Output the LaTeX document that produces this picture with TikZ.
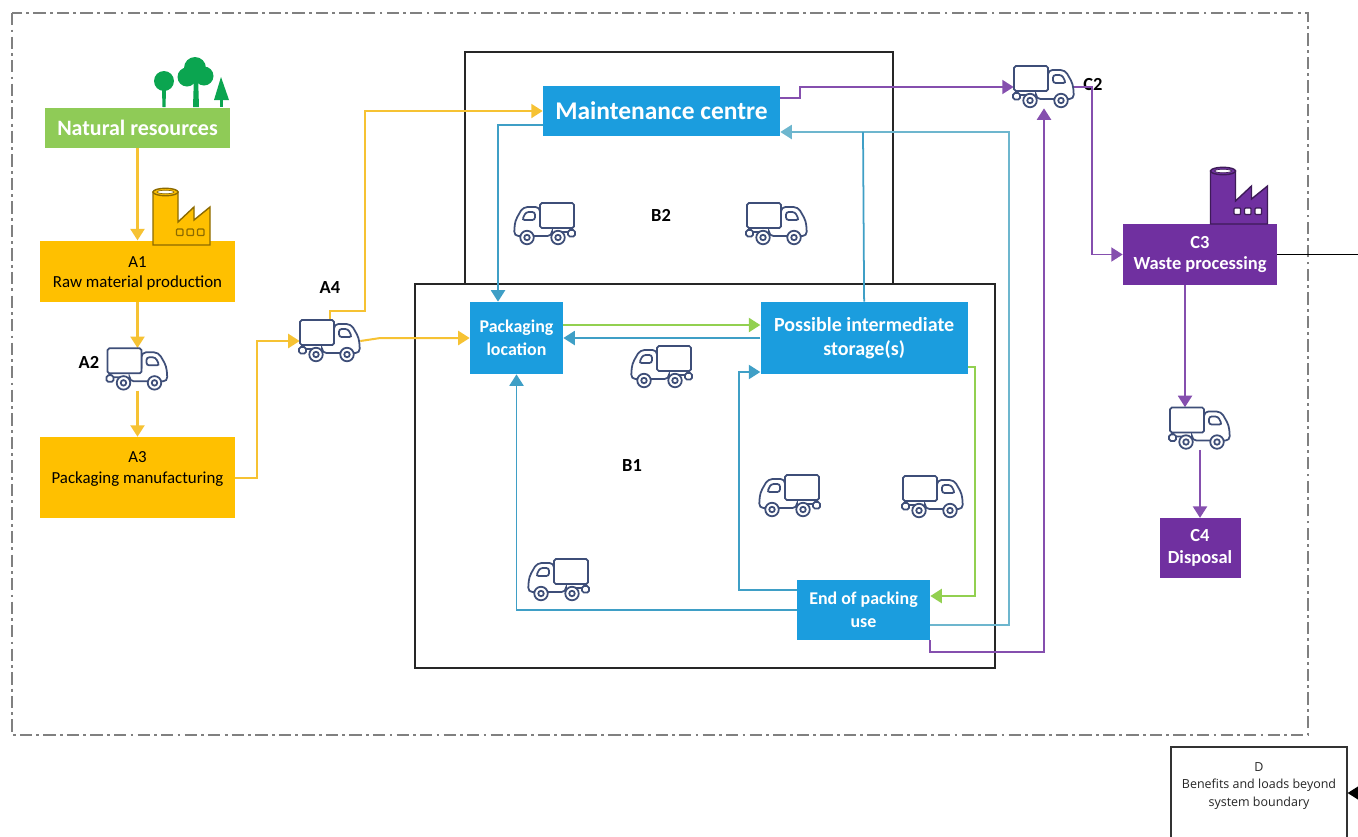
\documentclass[tikz,border=0pt]{standalone}
\usepackage{fontspec}
\usepackage{tikz}
\usetikzlibrary{positioning}
\usetikzlibrary{arrows.meta}
\setmainfont{Carlito}
\newfontfamily\dfont{Open Sans}
\definecolor{green_box}{HTML}{8FCB57}
\definecolor{tree_green}{HTML}{0BA550}
\definecolor{yellow_box}{HTML}{FFC000}
\definecolor{yellow_line}{HTML}{F6C233}
\definecolor{blue_box}{HTML}{1B9DDE}
\definecolor{blue_line}{HTML}{3F9FC6}
\definecolor{blue_light}{HTML}{6DB6CE}
\definecolor{green_line}{HTML}{92D050}
\definecolor{purple_box}{HTML}{7030A0}
\definecolor{truck_line}{HTML}{3E4E78}
\tikzset{
  pics/truck/.style={code={
    \draw[truck_line, line width=1pt, fill=white, rounded corners=2.5pt] (4,-17) -- (21,-17) -- (29,-3) -- (30,12) -- (-8,12) -- (-8,8) -- (-28,8) -- (-28,3) -- (4,3) -- cycle;
    \draw[truck_line, line width=1pt, fill=white, rounded corners=1pt] (-31,6) rectangle (-24,12.5);
    \draw[truck_line, line width=1pt, fill=white, rounded corners=1pt] (-30,-21) rectangle (4,4);
    \draw[truck_line, line width=1pt, fill=white, rounded corners=1.5pt] (9,-12) -- (18,-12) -- (22,-4) -- (9,-4) -- cycle;
    \foreach \wheel in {-14,17} {
      \draw[truck_line, line width=1pt, fill=white] (\wheel,13.5) circle (1.35mm);
      \draw[truck_line, line width=1pt, fill=white] (\wheel,13.5) circle (0.55mm);
    }
  }},
  pics/factory/.style 2 args={code={
    \draw[#1!55!black, line width=0.8pt, fill=#1] (0,0) -- (0,-53) -- (25,-53) -- (25,-23) -- (41,-38) -- (41,-25) -- (57,-38) -- (57,0) -- cycle;
    \draw[#1!55!black, line width=0.8pt, fill=#1] (12.5,-53) ellipse (2.5mm and 0.75mm);
    \draw[#1!55!black, line width=0.4pt, fill=white] (12.5,-53) ellipse (1.7mm and 0.35mm);
    \foreach \win in {23.5,34,44.5}
      \draw[#1!55!black, line width=0.7pt, fill=#2, rounded corners=0.5pt] (\win,-16) rectangle ++(6.5,6.5);
  }},
}
\begin{document}
\begin{tikzpicture}[
    x=0.02cm, y=-0.02cm,
    green_node/.style={rectangle, fill=green_box, text=white, inner sep=0pt, font=\bfseries\fontsize{12.5}{14}\selectfont},
    yellow_node/.style={rectangle, fill=yellow_box, text=black, inner sep=0pt, align=center, minimum width=39mm, font=\fontsize{9.6}{11.4}\selectfont},
    blue_node/.style={rectangle, fill=blue_box, text=white, inner sep=0pt, align=center, font=\bfseries\fontsize{10.2}{12.8}\selectfont},
    purple_node/.style={rectangle, fill=purple_box, text=white, inner sep=0pt, align=center, font=\bfseries\fontsize{10.5}{12.4}\selectfont},
    truck_node/.style={rectangle, inner sep=0pt, minimum width=12mm, minimum height=8.4mm},
    label_node/.style={inner sep=0pt, font=\bfseries\fontsize{10.5}{12}\selectfont},
    system_line/.style={draw=black!50, line width=1pt, dash pattern=on 7pt off 2.4pt on 1.6pt off 2.4pt},
    frame_line/.style={draw=black!85, line width=0.8pt},
    yellow_arrow/.style={draw=yellow_line, line width=1.15pt, -{Triangle[length=6.5pt, width=8pt]}},
    blue_arrow/.style={draw=blue_line, line width=1pt, -{Triangle[length=6.5pt, width=8pt]}},
    green_arrow/.style={draw=green_line, line width=1.15pt, -{Triangle[length=6.5pt, width=8pt]}},
    purple_arrow/.style={draw=purple_box!85!white, line width=1.05pt, -{Triangle[length=6.5pt, width=8pt]}},
]
\useasboundingbox (0,0) rectangle (1358,836);
% Boundary and frames
\draw[system_line] (12,13) rectangle (1308,735);
\draw[frame_line] (465,52) rectangle (893,284);
\draw[frame_line] (415,284) rectangle (995,668);

% Nodes
\node[green_node, minimum width=37mm, minimum height=8mm] (natural) at (137.5,128) {Natural resources};
\node[yellow_node, minimum height=12.2mm] (a1) [below=18.4mm of natural] {\rule{0pt}{8.5pt}A1\\Raw material production};
\node[truck_node] (truck_a2) [below=9.2mm of a1] {};
\node[yellow_node, minimum height=16.2mm] (a3) [below=9.2mm of truck_a2] {A3\\Packaging manufacturing\\~};
\node[truck_node] (truck_a4) at (330,341) {};

\node[blue_node, minimum width=18.6mm, minimum height=14.4mm] (pack) at (516.5,338) {Packaging\\location};
\node[blue_node, minimum width=41.4mm, minimum height=14.4mm, font=\bfseries\fontsize{11.4}{14}\selectfont] (storage) [right=39.4mm of pack] {Possible intermediate\\storage(s)};
\node[blue_node, minimum width=47.4mm, minimum height=10mm, font=\bfseries\fontsize{14.5}{16}\selectfont] (maint) at (661.5,111) {Maintenance centre};
\node[blue_node, minimum width=26.6mm, minimum height=12mm] (end_use) at (863.5,610) {End of packing\\use};

\node[truck_node] (truck_b2_l) at (544,224) {};
\node[truck_node] (truck_b2_r) at (777,224) {};
\node[truck_node] (truck_mid) at (661,367) {};
\node[truck_node] (truck_b1_l) at (789,496) {};
\node[truck_node] (truck_b1_r) at (933,497) {};
\node[truck_node] (truck_low) at (558,580) {};

\node[truck_node] (truck_c2) at (1044,87) {};
\node[purple_node, minimum width=30.8mm, minimum height=12.2mm] (c3) at (1200,254.5) {C3\\Waste processing};
\node[truck_node] (truck_c3) at (1200,428.5) {};
\node[purple_node, minimum width=16.2mm, minimum height=12mm] (c4) [below=13.6mm of truck_c3] {C4\\Disposal};
\node[rectangle, draw=black!80, line width=0.7pt, fill=white, minimum width=35.2mm, minimum height=18.4mm, inner sep=0pt, align=center, font=\dfont\fontsize{7.1}{9.9}\selectfont, text=black!85] (d) at (1259,793) {D\\Benefits and loads beyond\\system boundary\\~};

% Labels
\node[label_node] (label_a2) at (89,362) {A2};
\node[label_node] (label_a4) at (330,288) {A4};
\node[label_node] (label_b2) at (661,215) {B2};
\node[label_node] (label_b1) at (632,465) {B1};
\node[label_node] (label_c2) at (1093,85) {C2};

\coordinate (blue_join) at (863,132);
\coordinate (black_out) at (1358,254.5);
\coordinate (black_in) at (1358,793);

%Lines
\draw[yellow_arrow] (natural.south) -- (a1.north);
\draw[yellow_arrow] (a1.south) -- (truck_a2.north);
\draw[yellow_arrow] (truck_a2.south) -- (a3.north);
\draw[yellow_arrow] (a3.east) -- ++(22,0) |- (truck_a4.west);
\draw[yellow_arrow] (truck_a4.north) -- ++(0,-9) -- ++(35,0) |- (maint.west);
\draw[yellow_arrow] (truck_a4.east) -- ++(20,-3) -- (pack.west);

\draw[green_arrow] ([yshift=2.6mm]pack.east) -- ([yshift=2.6mm]storage.west);
\draw[blue_arrow] (storage.west) -- (pack.east);
\draw[green_arrow] ([yshift=-5.8mm]storage.east) -- ++(7,0) |- ([yshift=2.8mm]end_use.east);
\draw[blue_arrow] ([yshift=4mm]end_use.west) -- ++(-58,0) |- ([yshift=-6.8mm]storage.west);
\draw[blue_arrow] (end_use.west) -| (pack.south);
\draw[blue_arrow, draw=blue_light] ([yshift=-3mm]end_use.east) -- ++(79,0) |- ([yshift=-4.2mm]maint.east);
\draw[draw=blue_line, line width=1pt] (storage.north) -- (blue_join);
\draw[blue_arrow] ([yshift=-2.8mm]maint.west) -| ([xshift=-3.7mm]pack.north);

\draw[purple_arrow] ([yshift=2.6mm]maint.east) -- ++(20,0) |- (truck_c2.west);
\draw[purple_arrow] (end_use.south east) -- ++(0,12) -| (truck_c2.south);
\draw[purple_arrow] (truck_c2.east) -- ++(18,0) |- (c3.west);
\draw[purple_arrow] ([xshift=-3mm]c3.south) -- ([xshift=-3mm]truck_c3.north);
\draw[purple_arrow] (truck_c3.south) -- (c4.north);

\draw[black, line width=0.8pt] (c3.east) -- (black_out);
\draw[black, line width=0.8pt, -{Triangle[length=6.5pt, width=8pt]}] (black_in) -- (d.east);

% Trucks
\foreach \truckname in {truck_a2, truck_a4, truck_b2_r, truck_b1_r, truck_c2, truck_c3}
  \pic at (\truckname) {truck};
\foreach \truckname in {truck_b2_l, truck_mid, truck_b1_l, truck_low}
  \pic[xscale=-1] at (\truckname) {truck};

% Factories and trees
\pic at (153,245) {factory={yellow_box}{yellow_box}};
\pic at (1210.5,224) {factory={purple_box}{white}};
\fill[tree_green] (164,81) circle (2mm);
\fill[tree_green] (162,90) -- (166,90) -- (165.5,107) -- (162.5,107) -- cycle;
\fill[tree_green] (195,68) circle (2.2mm) (187,77) circle (1.9mm) (204,76) circle (1.9mm);
\fill[tree_green] (194,75) -- (198,75) -- (199,107) -- (193,107) -- cycle;
\fill[tree_green] (221,77) -- (214,100) -- (229,100) -- cycle;
\fill[tree_green] (220,100) rectangle (222.5,107);
\end{tikzpicture}
\end{document}
